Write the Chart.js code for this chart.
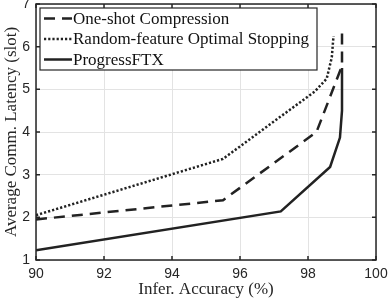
<!DOCTYPE html>
<html>
<head>
<meta charset="utf-8">
<script src="https://cdn.jsdelivr.net/npm/chart.js@4"></script>
<style>
  html, body { margin: 0; padding: 0; background: #fff; }
  #wrap { width: 389px; height: 300px; }
</style>
</head>
<body>
<div id="wrap"><canvas id="myChart" width="389" height="300"></canvas></div>
<script>
// datos
const seriesNames = ['One-shot Compression', 'Random-feature Optimal Stopping', 'ProgressFTX'];

const accOneShot = [90, 95.5, 98.25, 99.0, 99.0];
const latOneShot = [1.95, 2.4, 4.0, 5.55, 6.4];

const accRandom = [90, 95.5, 98.2, 98.55, 98.7, 98.75];
const latRandom = [2.05, 3.37, 4.95, 5.25, 5.75, 6.25];

const accProgress = [90, 97.2, 98.65, 98.94, 99.0, 99.0];
const latProgress = [1.23, 2.14, 3.18, 3.87, 4.5, 5.5];

const xTicks = [90, 92, 94, 96, 98, 100];
const yTicks = [1, 2, 3, 4, 5, 6, 7];

const lineColor = '#222222';
const frameColor = '#262626';

function puntos(xs, ys) {
    return xs.map((x, i) => ({ x: x, y: ys[i] }));
}

// quita el relleno extra que chart.js pone por las etiquetas
function sinRelleno(s) {
    s.paddingTop = 0;
    s.paddingBottom = 0;
    s.paddingLeft = 0;
    s.paddingRight = 0;
}

// marco, ticks hacia adentro y leyenda tipo matlab
const marcoPlugin = {
    id: 'marco',
    afterDatasetsDraw(chart) {
        const ctx = chart.ctx;
        const a = chart.chartArea;
        const sx = chart.scales.x;
        const sy = chart.scales.y;
        ctx.save();
        ctx.strokeStyle = frameColor;
        ctx.lineWidth = 1.5;
        ctx.beginPath();
        xTicks.forEach(v => {
            const px = sx.getPixelForValue(v);
            ctx.moveTo(px, a.bottom); ctx.lineTo(px, a.bottom - 4);
            ctx.moveTo(px, a.top); ctx.lineTo(px, a.top + 4);
        });
        yTicks.forEach(v => {
            const py = sy.getPixelForValue(v);
            ctx.moveTo(a.left, py); ctx.lineTo(a.left + 4, py);
            ctx.moveTo(a.right, py); ctx.lineTo(a.right - 4, py);
        });
        ctx.stroke();
        ctx.strokeRect(a.left, a.top, a.right - a.left, a.bottom - a.top);

        // leyenda
        const lx = a.left + 4, ly = a.top + 4, lw = 277, lh = 62;
        ctx.fillStyle = '#fff';
        ctx.fillRect(lx, ly, lw, lh);
        ctx.lineWidth = 1.2;
        ctx.setLineDash([]);
        ctx.strokeRect(lx, ly, lw, lh);
        ctx.font = '17px "Liberation Serif"';
        ctx.textBaseline = 'middle';
        chart.data.datasets.forEach((ds, i) => {
            const yy = ly + 10.5 + i * 20.5;
            ctx.strokeStyle = ds.borderColor;
            ctx.lineWidth = ds.borderWidth;
            ctx.setLineDash(ds.borderDash || []);
            ctx.beginPath();
            ctx.moveTo(lx + 4, yy);
            ctx.lineTo(lx + 32, yy);
            ctx.stroke();
            ctx.setLineDash([]);
            ctx.fillStyle = '#111';
            ctx.fillText(ds.label, lx + 33, yy + 1);
        });
        ctx.restore();
    }
};

const canvasGrafico = document.getElementById('myChart');
const grafico = new Chart(canvasGrafico, {
    type: 'scatter',
    data: {
        datasets: [{
            label: seriesNames[0],
            data: puntos(accOneShot, latOneShot),
            borderColor: lineColor,
            borderWidth: 2.5,
            borderDash: [11, 7]
        }, {
            label: seriesNames[1],
            data: puntos(accRandom, latRandom),
            borderColor: lineColor,
            borderWidth: 2.5,
            borderDash: [2.2, 2]
        }, {
            label: seriesNames[2],
            data: puntos(accProgress, latProgress),
            borderColor: lineColor,
            borderWidth: 2.5
        }].map(ds => Object.assign(ds, { showLine: true, pointRadius: 0, fill: false, tension: 0 }))
    },
    options: {
        responsive: false,
        animation: false,
        layout: { padding: { top: 4, right: 13, left: 0, bottom: 0 } },
        plugins: {
            legend: { display: false },
            tooltip: { enabled: false }
        },
        scales: {
            x: {
                type: 'linear',
                min: 90,
                max: 100,
                afterFit: (s) => { s.height = 40; sinRelleno(s); },
                afterBuildTicks: (s) => { s.ticks = xTicks.map(v => ({ value: v })); },
                grid: { color: '#e3e3e3', lineWidth: 1, drawTicks: false },
                border: { display: false },
                ticks: {
                    padding: 6,
                    color: '#262626',
                    font: { family: 'Liberation Sans', size: 14 }
                },
                title: {
                    display: true,
                    text: 'Infer. Accuracy (%)',
                    color: '#262626',
                    padding: 0,
                    font: { family: 'Liberation Serif', size: 17 }
                }
            },
            y: {
                type: 'linear',
                min: 1,
                max: 7,
                afterFit: (s) => { s.width = 36; sinRelleno(s); },
                afterBuildTicks: (s) => { s.ticks = yTicks.map(v => ({ value: v })); },
                grid: { color: '#e3e3e3', lineWidth: 1, drawTicks: false },
                border: { display: false },
                ticks: {
                    padding: 6,
                    color: '#262626',
                    font: { family: 'Liberation Sans', size: 14 }
                },
                title: {
                    display: true,
                    text: 'Average Comm. Latency (slot)',
                    color: '#262626',
                    padding: { top: 1, bottom: 0 },
                    font: { family: 'Liberation Serif', size: 17 }
                }
            }
        }
    },
    plugins: [marcoPlugin]
});
</script>
</body>
</html>
